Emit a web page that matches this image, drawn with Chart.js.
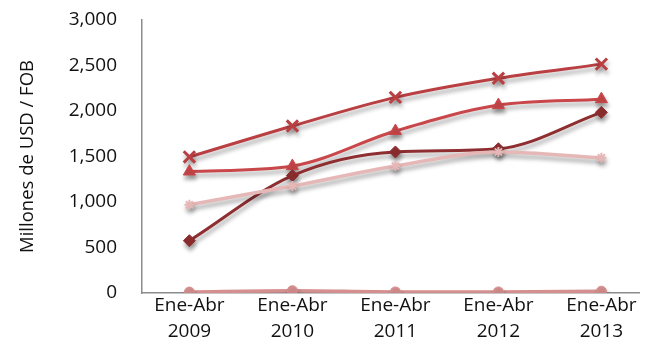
<!DOCTYPE html>
<html>
<head>
<meta charset="utf-8">
<script src="https://cdn.jsdelivr.net/npm/chart.js@4/dist/chart.umd.min.js"></script>
<style>
  html, body { margin: 0; padding: 0; background: #fff; }
  #wrap { width: 650px; height: 350px; }
</style>
</head>
<body>
<div id="wrap"><canvas id="grafico" width="650" height="350"></canvas></div>
<script>
// Datos del gráfico
const periodos = ['Ene-Abr 2009', 'Ene-Abr 2010', 'Ene-Abr 2011', 'Ene-Abr 2012', 'Ene-Abr 2013'];
const serieCruz = [1495, 1835, 2150, 2360, 2515];
const serieTriangulo = [1335, 1395, 1780, 2065, 2130];
const serieRombo = [575, 1290, 1550, 1585, 1985];
const serieEstrella = [970, 1175, 1395, 1550, 1485];
const serieCirculo = [10, 25, 12, 12, 20];
const ticksY = [0, 500, 1000, 1500, 2000, 2500, 3000];

const fuente = "'Open Sans', 'Liberation Sans', sans-serif";

// Convertir a puntos {x, y} sobre un eje lineal
function aPuntos(valores) {
    return valores.map((v, i) => ({ x: i, y: v }));
}

function serie(valores, color, estilo, radio, ancho, bordePunto) {
    return {
        data: aPuntos(valores),
        borderColor: color,
        backgroundColor: color,
        borderWidth: ancho,
        pointStyle: estilo,
        pointRadius: radio,
        pointBorderWidth: bordePunto,
        pointBorderColor: color,
        pointBackgroundColor: color,
        cubicInterpolationMode: 'monotone',
        fill: false
    };
}

// Sombra suave bajo las líneas
const sombra = {
    id: 'sombra',
    beforeDatasetDraw(chart) {
        const ctx = chart.ctx;
        ctx.save();
        ctx.shadowColor = 'rgba(0,0,0,0.35)';
        ctx.shadowBlur = 4;
        ctx.shadowOffsetX = 1;
        ctx.shadowOffsetY = 4;
    },
    afterDatasetDraw(chart) {
        chart.ctx.restore();
    }
};

const ctx = document.getElementById('grafico');

new Chart(ctx, {
    type: 'line',
    data: {
        datasets: [
            serie(serieCirculo, '#d68f8f', 'circle', 5, 3.5, 1),
            serie(serieEstrella, '#e6b7b7', 'star', 5, 3.5, 2),
            serie(serieRombo, '#8e2e30', 'rectRot', 6, 3, 1),
            serie(serieTriangulo, '#c9474a', 'triangle', 7, 3, 1),
            serie(serieCruz, '#b93f42', 'crossRot', 8, 3, 3)
        ]
    },
    plugins: [sombra],
    options: {
        responsive: false,
        animation: false,
        layout: { padding: { top: 20, right: 5, left: 0, bottom: 0 } },
        plugins: {
            legend: { display: false },
            tooltip: { enabled: false }
        },
        scales: {
            x: {
                type: 'linear',
                min: -0.46,
                max: 4.365,
                grid: { display: false, drawTicks: false },
                border: { display: true, color: '#8c8c8c', width: 1.5 },
                afterBuildTicks(scale) {
                    scale.ticks = periodos.map((p, i) => ({ value: i }));
                },
                afterFit(scale) {
                    scale.height = 57;
                    scale.paddingLeft = 0;
                    scale.paddingRight = 0;
                },
                ticks: {
                    autoSkip: false,
                    maxRotation: 0,
                    padding: 0,
                    color: '#111',
                    font: { family: fuente, size: 19, lineHeight: 1.35 },
                    callback: function(value) {
                        const p = periodos[value];
                        return p ? p.split(' ') : '';
                    }
                }
            },
            y: {
                min: 0,
                max: 3000,
                grid: { display: false, drawTicks: false },
                border: { display: true, color: '#8c8c8c', width: 1.5 },
                afterBuildTicks(scale) {
                    scale.ticks = ticksY.map(v => ({ value: v }));
                },
                afterFit(scale) {
                    scale.width = 142;
                    scale.paddingTop = 0;
                    scale.paddingBottom = 0;
                },
                title: {
                    display: true,
                    text: 'Millones de USD / FOB',
                    color: '#111',
                    font: { family: fuente, size: 18.5 },
                    padding: { top: 17, bottom: 0 }
                },
                ticks: {
                    padding: 25,
                    color: '#111',
                    font: { family: fuente, size: 19 },
                    callback: function(value) {
                        return value.toLocaleString('en-US');
                    }
                }
            }
        }
    }
});
</script>
</body>
</html>
